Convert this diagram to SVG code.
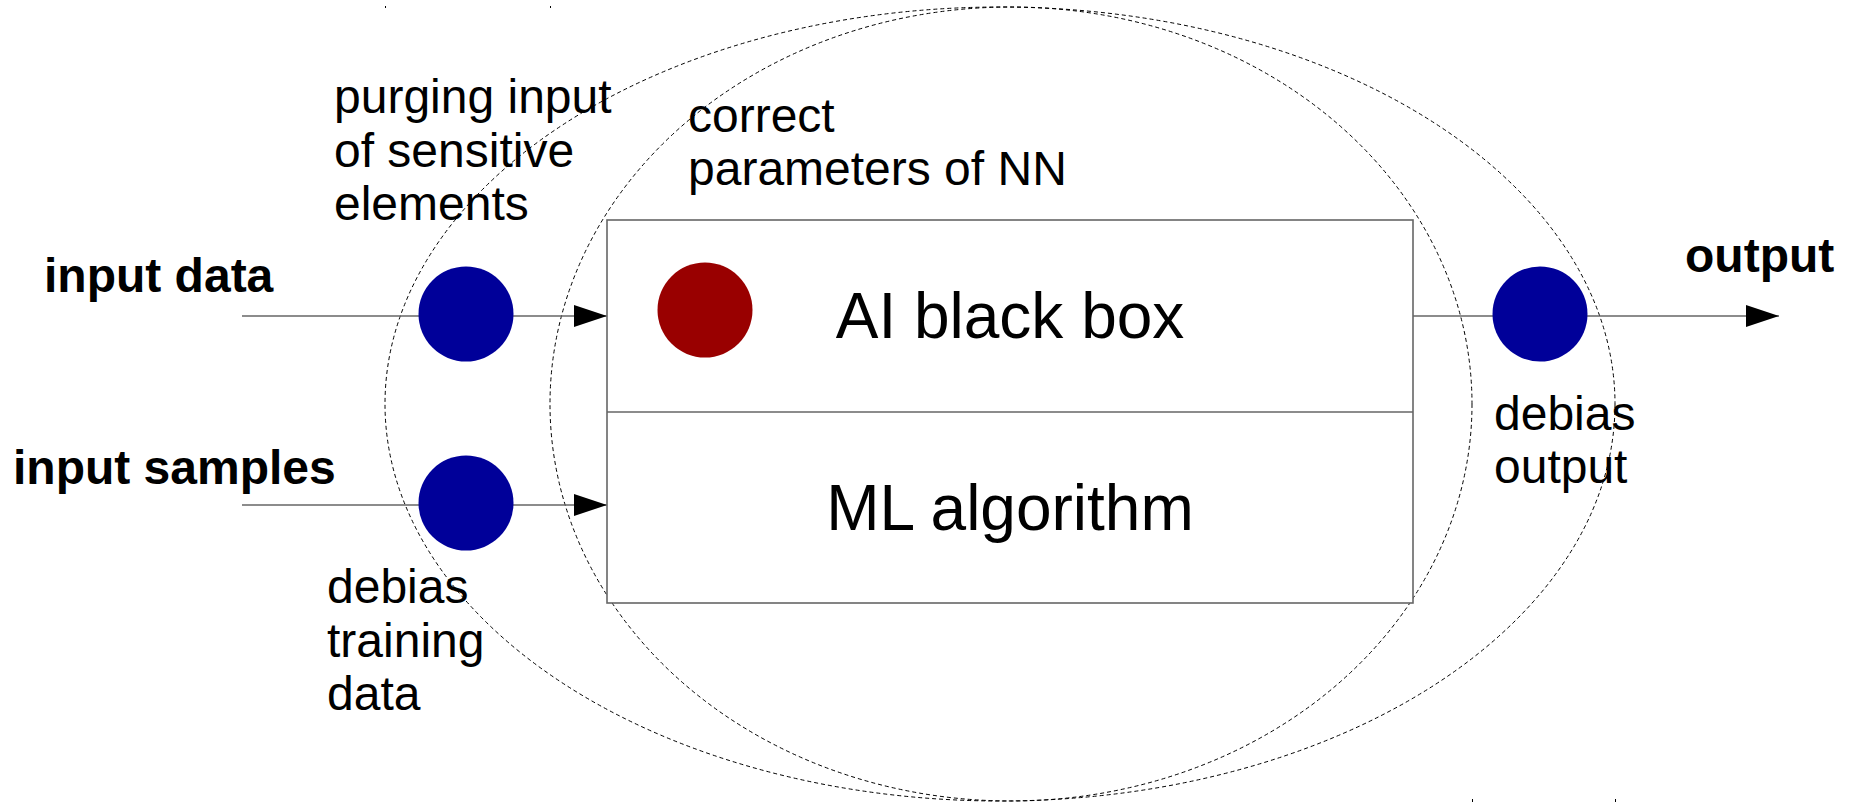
<svg xmlns="http://www.w3.org/2000/svg" width="1854" height="803" viewBox="0 0 1854 803">
  <defs>
    <style>
      text { font-family: "Liberation Sans", Arial, sans-serif; fill: #000; }
      .lbl { font-size: 48px; }
      .bold { font-size: 48px; font-weight: bold; }
      .big { font-size: 64px; }
      .dash { fill: none; stroke: #000; stroke-width: 1; stroke-dasharray: 4 3; }
      .conn { fill: none; stroke: #666; stroke-width: 1.4; }
      .box { fill: #fff; stroke: #666; stroke-width: 1.6; }
      .blue { fill: #000099; }
      .red { fill: #990000; }
      .mark { fill: #000; }
    </style>
    <marker id="arrow" markerUnits="userSpaceOnUse" markerWidth="34" markerHeight="24" refX="33" refY="11" orient="auto">
      <path d="M0,0 L33,11 L0,22 Z" fill="#000"/>
    </marker>
  </defs>
  <rect width="1854" height="803" fill="#fff"/>

  <g id="scope-ellipses">
    <ellipse class="dash" cx="1000" cy="404" rx="615" ry="397"/>
    <ellipse class="dash" cx="1011" cy="404" rx="461" ry="397"/>
    <rect class="mark" x="385" y="6" width="1" height="2"/>
    <rect class="mark" x="550" y="6" width="1" height="2"/>
    <rect class="mark" x="1472" y="799" width="1" height="3"/>
    <rect class="mark" x="1615" y="799" width="1" height="3"/>
  </g>

  <g id="connectors">
    <line class="conn" x1="242" y1="316" x2="607" y2="316" marker-end="url(#arrow)"/>
    <line class="conn" x1="242" y1="505" x2="607" y2="505" marker-end="url(#arrow)"/>
    <line class="conn" x1="1413" y1="316" x2="1779" y2="316" marker-end="url(#arrow)"/>
  </g>

  <g id="ai-box">
    <rect class="box" x="607" y="220" width="806" height="383"/>
    <line class="box" x1="607" y1="412" x2="1413" y2="412"/>
    <text class="big" x="1010" y="338" text-anchor="middle">AI black box</text>
    <text class="big" x="1010" y="530" text-anchor="middle">ML algorithm</text>
  </g>

  <g id="nn-params">
    <circle class="red" cx="705" cy="310" r="47.5"/>
    <text class="lbl" x="688" y="132">correct</text>
    <text class="lbl" x="688" y="185">parameters of NN</text>
  </g>

  <g id="input-data">
    <text class="bold" x="44" y="292">input data</text>
  </g>

  <g id="input-samples">
    <text class="bold" x="13" y="484">input samples</text>
  </g>

  <g id="purge-node">
    <circle class="blue" cx="466" cy="314" r="47.5"/>
    <text class="lbl" x="334" y="113">purging input</text>
    <text class="lbl" x="334" y="167">of sensitive</text>
    <text class="lbl" x="334" y="220">elements</text>
  </g>

  <g id="debias-training-node">
    <circle class="blue" cx="466" cy="503" r="47.5"/>
    <text class="lbl" x="327" y="603">debias</text>
    <text class="lbl" x="327" y="657">training</text>
    <text class="lbl" x="327" y="710">data</text>
  </g>

  <g id="debias-output-node">
    <circle class="blue" cx="1540" cy="314" r="47.5"/>
    <text class="lbl" x="1494" y="430">debias</text>
    <text class="lbl" x="1494" y="483">output</text>
  </g>

  <g id="output">
    <text class="bold" x="1685" y="272">output</text>
  </g>
</svg>
